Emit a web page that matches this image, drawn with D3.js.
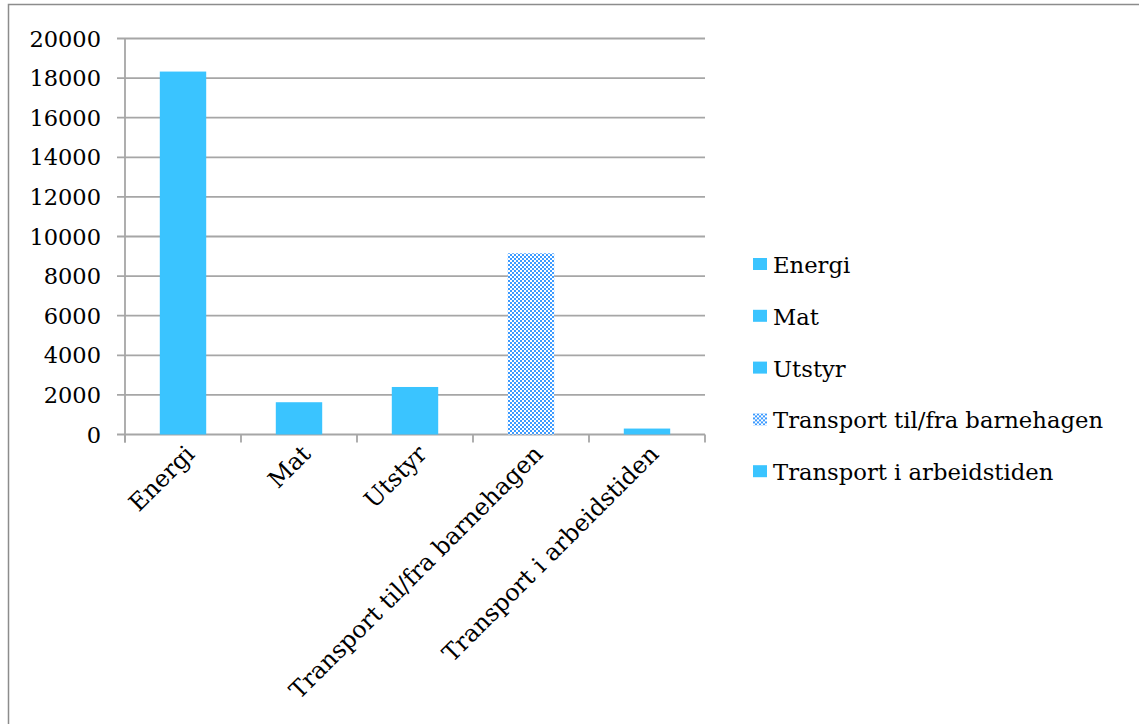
<!DOCTYPE html>
<html><head><meta charset="utf-8">
<script src="https://cdn.jsdelivr.net/npm/d3@7"></script>
<style>body{margin:0;background:#fff}svg{display:block}text{font-family:"DejaVu Serif",serif;fill:#000}</style>
</head><body>
<svg id="c" width="1139" height="724"></svg>
<script>
const categories = ["Energi","Mat","Utstyr","Transport til/fra barnehagen","Transport i arbeidstiden"];
const values = [18330, 1630, 2400, 9150, 300];
const patterned = [false, false, false, true, false];
const yTicks = [0,2000,4000,6000,8000,10000,12000,14000,16000,18000,20000];

const svg = d3.select("#c");
const defs = svg.append("defs");
const pat = defs.append("pattern").attr("id","chk").attr("patternUnits","userSpaceOnUse").attr("width",4).attr("height",4);
pat.append("rect").attr("width",4).attr("height",4).attr("fill","#ffffff");
pat.append("rect").attr("width",2).attr("height",2).attr("fill","#3d9bff");
pat.append("rect").attr("x",2).attr("y",2).attr("width",2).attr("height",2).attr("fill","#3d9bff");

// frame
svg.append("rect").attr("x",8.5).attr("y",4.5).attr("width",1200).attr("height",800)
  .attr("fill","none").attr("stroke","#8c8c8c").attr("stroke-width",1.5);

const x = d3.scaleBand().domain(categories).range([125,705]).paddingInner(0.6).paddingOuter(0.3);
const y = d3.scaleLinear().domain([0,20000]).range([434.5,38.5]);
const gridC = "#a6a6a6";

// gridlines
svg.append("g").selectAll("line").data(yTicks).join("line")
  .attr("x1",117).attr("x2",705).attr("y1",d=>y(d)).attr("y2",d=>y(d))
  .attr("stroke",gridC).attr("stroke-width",1.8);
// y axis line
svg.append("line").attr("x1",125).attr("x2",125).attr("y1",y(20000)).attr("y2",y(0)+8)
  .attr("stroke",gridC).attr("stroke-width",1.8);
// y labels
svg.append("g").selectAll("text").data(yTicks).join("text")
  .attr("x",101).attr("y",d=>y(d)).attr("dy","0.36em").attr("text-anchor","end")
  .attr("font-size",22.5).text(d=>d);
// x ticks
const tickX = categories.map(c=>x(c) - x.step()*0.3).concat([705]);
svg.append("g").selectAll("line").data(tickX).join("line")
  .attr("x1",d=>d).attr("x2",d=>d)
  .attr("y1",y(0)).attr("y2",y(0)+8).attr("stroke",gridC).attr("stroke-width",1.8);

// bars
svg.append("g").selectAll("rect").data(categories).join("rect")
  .attr("x",c=>x(c)).attr("width",x.bandwidth())
  .attr("y",(c,i)=>y(values[i])).attr("height",(c,i)=>y(0)-y(values[i]))
  .attr("fill",(c,i)=>patterned[i]?"url(#chk)":"#3ac4ff");

// x labels
svg.append("g").selectAll("text").data(categories).join("text")
  .attr("text-anchor","end").attr("font-size",23.8)
  .attr("transform",c=>`translate(${x(c)+x.bandwidth()/2+13},${y(0)+21}) rotate(-45)`)
  .text(c=>c);

// legend
const lg = svg.append("g").selectAll("g").data(categories).join("g")
  .attr("transform",(c,i)=>`translate(753,${258+i*51.8})`);
lg.append("rect").attr("width",14).attr("height",12).attr("fill",(c,i)=>patterned[i]?"url(#chk)":"#3ac4ff");
lg.append("text").attr("x",20).attr("y",15).attr("font-size",22.7).text(c=>c);
</script>
</body></html>
